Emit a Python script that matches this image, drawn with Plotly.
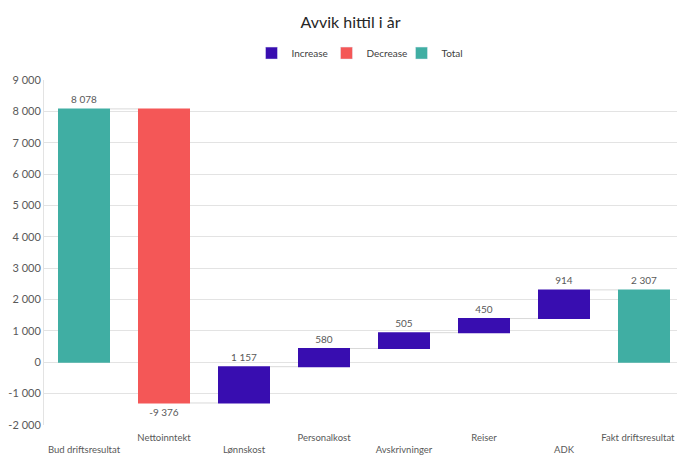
import plotly.graph_objects as go

categories = ["Bud driftsresultat", "Nettoinntekt", "Lønnskost", "Personalkost",
              "Avskrivninger", "Reiser", "ADK", "Fakt driftsresultat"]
values = [8078, -9376, 1157, 580, 505, 450, 914, 2307]
measures = ["absolute", "relative", "relative", "relative",
            "relative", "relative", "relative", "absolute"]
y_ticks = [-2000, -1000, 0, 1000, 2000, 3000, 4000, 5000, 6000, 7000, 8000, 9000]

teal = "#40AEA3"
red = "#F45757"
purple = "#380DB0"
font = dict(family="Lato, Open Sans, sans-serif", size=11, color="#595959")


def fmt(v):
    return f"{v:,}".replace(",", " ")


# staggered category labels like the original
ticktext = [("<br>" + c) if i % 2 == 0 else c for i, c in enumerate(categories)]
# nudge the last label left so it stays inside the window
ticktext[-1] = ticktext[-1] + "\u00a0" * 5

fig = go.Figure()
fig.add_trace(go.Waterfall(
    x=categories, y=values, measure=measures,
    text=[fmt(v) for v in values], textposition="outside",
    textfont=dict(size=10, color="#595959"),
    increasing=dict(marker=dict(color=purple)),
    decreasing=dict(marker=dict(color=red)),
    totals=dict(marker=dict(color=teal)),
    connector=dict(line=dict(color="#D9D9D9", width=1)),
    showlegend=False, cliponaxis=False,
))

for name, color in [("Increase", purple), ("Decrease", red), ("Total", teal)]:
    fig.add_trace(go.Bar(x=[None], y=[None], name=name, marker_color=color))

# page body adds 8px offset, margins compensate
fig.update_layout(
    width=685, height=458,
    margin=dict(l=36, r=9, t=72, b=41),
    paper_bgcolor="white", plot_bgcolor="white",
    font=font, separators=", ",
    waterfallgap=0.35,
    title=dict(text="Avvik hittil i år", x=0.5, xanchor="center", y=0.969, yanchor="middle",
               font=dict(size=16, color="#262626")),
    legend=dict(orientation="h", x=0.5, xanchor="center", y=1.078, yanchor="middle",
                font=dict(size=10, color="#404040"), itemwidth=30, entrywidth=30),
)
fig.update_xaxes(tickvals=categories, ticktext=ticktext, showgrid=False, showline=False,
                 ticks="", tickangle=0, ticklabelstandoff=5, automargin=False,
                 tickfont=dict(size=9.5, color="#595959"))
fig.update_yaxes(range=[-2000, 9000], tickvals=y_ticks, ticktext=[fmt(v) for v in y_ticks],
                 gridcolor="#E3E3E3", zeroline=False, showline=True, linecolor="#E3E3E3",
                 ticks="", automargin=False, tickfont=dict(size=11, color="#595959"))

fig.write_html("out.html")
